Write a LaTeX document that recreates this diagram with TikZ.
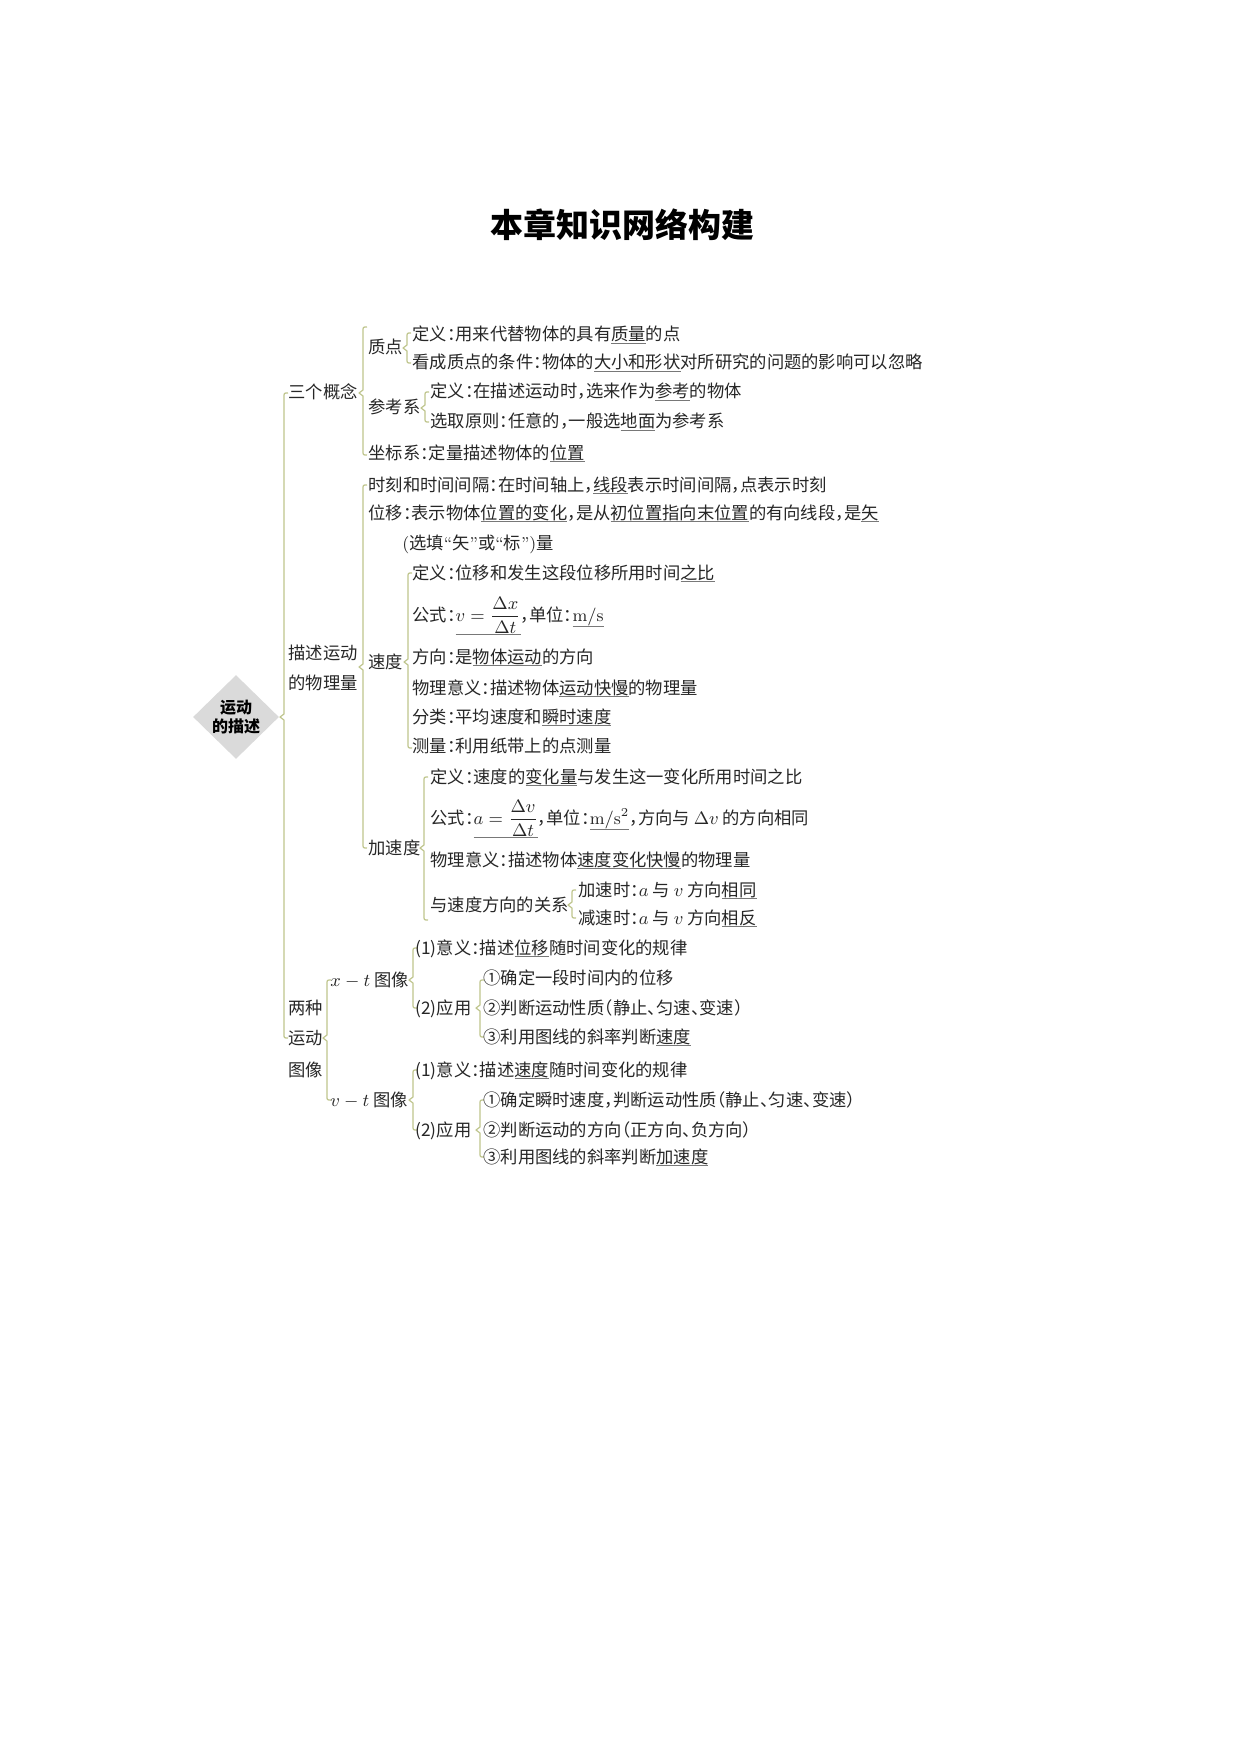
\documentclass[tikz,border=0pt]{standalone}
\usepackage{amsmath}
\usepackage{fontspec}
\usetikzlibrary{shapes.geometric}
\newfontfamily\cjk{Noto Sans CJK SC}[RawFeature=+halt]
\newfontfamily\cjkt{Noto Sans CJK SC}
\definecolor{brcol}{RGB}{190,196,140}
\definecolor{ulgray}{RGB}{120,120,120}
\definecolor{diagray}{RGB}{218,218,218}
\newcommand\myul[1]{\setbox0\hbox{#1}\rlap{\textcolor{ulgray}{\rule[\dimexpr-\dp0-0.7pt\relax]{\wd0}{0.45pt}}}\box0}
\newcommand\brc[4]{\draw[brl] ({#1+4},#2) .. controls (#1,#2) .. (#1,{#2+4}) -- (#1,{#3-3}) -- ({#1-4},#3) -- (#1,{#3+3}) -- (#1,{#4-4}) .. controls (#1,#4) .. ({#1+4},#4);}
\begin{document}
\begin{tikzpicture}[x=0.5pt,y=-0.5pt,
  txt/.style={anchor=base west, inner sep=0pt, font=\cjk\fontsize{8.65}{10}\selectfont, text=black!85},
  brl/.style={draw=brcol, line width=0.6pt, line join=round}]
\useasboundingbox (0,0) rectangle (1240,1754);
% title
\node[inner sep=0pt, font=\cjkt\bfseries\fontsize{16.5}{20}\selectfont] (title) at (622,225) {本章知识网络构建};
% root
\node[diamond, fill=diagray, minimum width=43pt, minimum height=42pt, inner sep=0pt, align=center,
  font=\cjkt\bfseries\fontsize{8}{9.2}\selectfont] (root) at (236,717) {运动\\的描述};
% braces
\brc{284}{393}{717}{1038}
\brc{363}{327}{393}{455}
\brc{407}{333}{348}{363}
\brc{425}{392}{408}{422}
\brc{363}{485}{667}{848}
\brc{408}{573}{662}{748}
\brc{424}{777}{848}{920}
\brc{572}{890}{905}{918}
\brc{327}{980}{1038}{1100}
\brc{413}{948}{980}{1008}
\brc{480}{980}{1008}{1037}
\brc{413}{1070}{1100}{1130}
\brc{480}{1100}{1130}{1157}
% level 1
\node[txt] (a1) at (288,399) {三个概念};
\node[txt] (a2) at (288,659) {描述运动};
\node[txt] (a3) at (288,689) {的物理量};
\node[txt] (a4) at (288,1014) {两种};
\node[txt] (a5) at (288,1044) {运动};
\node[txt] (a6) at (288,1076) {图像};
% 三个概念
\node[txt] (b1) at (368,354) {质点};
\node[txt] (b2) at (412,341) {定义：用来代替物体的具有\myul{质量}的点};
\node[txt] (b3) at (412,369) {看成质点的条件：物体的\myul{大小和形状}对所研究的问题的影响可以忽略};
\node[txt] (b4) at (368,414) {参考系};
\node[txt] (b5) at (430,398) {定义：在描述运动时，选来作为\myul{参考}的物体};
\node[txt] (b6) at (430,428) {选取原则：任意的，一般选\myul{地面}为参考系};
\node[txt] (b7) at (368,459) {坐标系：定量描述物体的\myul{位置}};
% 物理量
\node[txt] (c1) at (368,491) {时刻和时间间隔：在时间轴上，\myul{线段}表示时间间隔，点表示时刻};
\node[txt] (c2) at (368,519) {位移：表示物体\myul{位置的变化}，是从\myul{初位置指向末位置}的有向线段，是\myul{矢}};
\node[txt] (c3) at (402,549) {{\rmfamily(}选填{\rmfamily “}矢{\rmfamily ”}或{\rmfamily “}标{\rmfamily ”)}量};
\node[txt] (c4) at (368,668) {速度};
\node[txt] (c5) at (412,579) {定义：位移和发生这段位移所用时间\myul{之比}};
\node[txt] (c6) at (412,621) {公式：\myul{$\displaystyle v=\frac{\Delta x}{\Delta t}$}，单位：\myul{$\mathrm{m/s}$}};
\node[txt] (c7) at (412,663) {方向：是\myul{物体运动}的方向};
\node[txt] (c8) at (412,694) {物理意义：描述物体\myul{运动快慢}的物理量};
\node[txt] (c9) at (412,723) {分类：平均速度和\myul{瞬时速度}};
\node[txt] (c10) at (412,752) {测量：利用纸带上的点测量};
\node[txt] (d1) at (368,854) {加速度};
\node[txt] (d2) at (430,783) {定义：速度的\myul{变化量}与发生这一变化所用时间之比};
\node[txt] (d3) at (430,824) {公式：\myul{$\displaystyle a=\frac{\Delta v}{\Delta t}$}，单位：\myul{$\mathrm{m/s^2}$}，方向与 $\Delta v$ 的方向相同};
\node[txt] (d4) at (430,866) {物理意义：描述物体\myul{速度变化快慢}的物理量};
\node[txt] (d5) at (430,911) {与速度方向的关系};
\node[txt] (d6) at (578,896) {加速时：$a$ 与 $v$ 方向\myul{相同}};
\node[txt] (d7) at (578,924) {减速时：$a$ 与 $v$ 方向\myul{相反}};
% 图像
\node[txt] (e1) at (330,986) {$x-t$ 图像};
\node[txt] (e2) at (415,954) {(1)意义：描述\myul{位移}随时间变化的规律};
\node[txt] (e3) at (415,1014) {(2)应用};
\node[txt] (e4) at (483,984) {①确定一段时间内的位移};
\node[txt] (e5) at (483,1014) {②判断运动性质（静止、匀速、变速）};
\node[txt] (e6) at (483,1043) {③利用图线的斜率判断\myul{速度}};
\node[txt] (f1) at (330,1106) {$v-t$ 图像};
\node[txt] (f2) at (415,1076) {(1)意义：描述\myul{速度}随时间变化的规律};
\node[txt] (f3) at (415,1136) {(2)应用};
\node[txt] (f4) at (483,1106) {①确定瞬时速度，判断运动性质（静止、匀速、变速）};
\node[txt] (f5) at (483,1136) {②判断运动的方向（正方向、负方向）};
\node[txt] (f6) at (483,1163) {③利用图线的斜率判断\myul{加速度}};
\end{tikzpicture}
\end{document}
